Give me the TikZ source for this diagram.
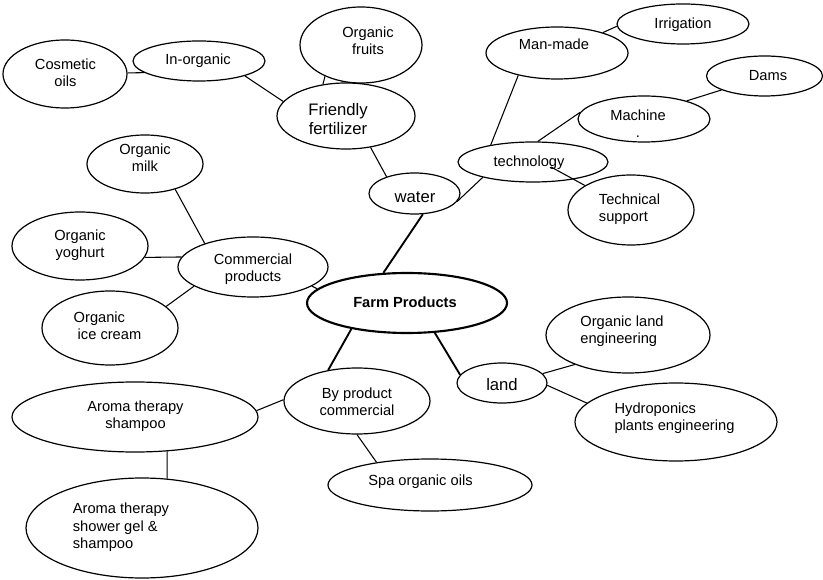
\documentclass[tikz,border=0pt]{standalone}
\usepackage{fontspec}
\setmainfont{Liberation Sans}
\usetikzlibrary{shapes.geometric}

% text sizes used in the bubbles
\newcommand\regsz{\fontsize{11}{13}\selectfont}
\newcommand\bigsz{\fontsize{12.5}{14}\selectfont}

\tikzset{
  bub/.style={draw, ellipse, line width=0.9pt, inner sep=0pt},
  sz/.style 2 args={minimum width=#1*1.5pt, minimum height=#2*1.5pt},
  txt/.style={inner sep=0pt, align=center, font=\regsz},
  ltxt/.style={inner sep=0pt, align=left, font=\regsz},
  link/.style={line width=0.8pt},
  trunk/.style={line width=1.4pt},
}

\begin{document}
\begin{tikzpicture}[x=0.75pt, y=-0.75pt]
\useasboundingbox (0,0) rectangle (823,580);

% ---- bubbles (centre, half-width, half-height in px) ----
\node[bub, sz={62}{34}]  (cos)     at (65,74)   {};
\node[bub, sz={66}{20}]  (inorg)   at (199,61)  {};
\node[bub, sz={61}{38}]  (fruits)  at (361,45)  {};
\node[bub, sz={69}{33}]  (fert)    at (346,116) {};
\node[bub, sz={58}{29}]  (milk)    at (145,164) {};
\node[bub, sz={45.5}{20.5}] (water) at (414.5,193.5) {};
\node[bub, sz={71}{26}]  (manmade) at (557,53)  {};
\node[bub, sz={66}{20}]  (irrig)   at (683,24)  {};
\node[bub, sz={58}{20}]  (dams)    at (764.5,76) {};
\node[bub, sz={66}{23}]  (machine) at (644,119) {};
\node[bub, sz={75}{20}]  (tech)    at (533,162) {};
\node[bub, sz={63}{35}]  (techsup) at (631,210) {};
\node[bub, sz={68}{34}]  (yog)     at (80,246)  {};
\node[bub, sz={75}{30}]  (comm)    at (253,267) {};
\node[bub, sz={68}{37}]  (ice)     at (110,328) {};
\node[bub, sz={100}{30}, line width=1.6pt] (farm) at (407,303) {};
\node[bub, sz={73}{33}]  (byp)     at (357,401) {};
\node[bub, sz={45}{20}]  (land)    at (502,383) {};
\node[bub, sz={82}{38}]  (oland)   at (628,335) {};
\node[bub, sz={101}{39}] (hydro)   at (676,422) {};
\node[bub, sz={102}{26}] (spa)     at (430,485) {};
\node[bub, sz={123}{35}] (shampoo) at (135,417) {};
\node[bub, sz={116}{50}] (gel)     at (142,528) {};

% ---- texts ----
\node[txt] (cosT)     at (65.5,72.5) {Cosmetic\\oils};
\node[txt] (inorgT)   at (198,61)    {In-organic};
\node[txt] (fruitsT)  at (368,41)    {Organic\\fruits};
\node[txt, font=\bigsz] (fertT) at (338,119) {Friendly\\fertilizer};
\node[txt] (milkT)    at (145,158)   {Organic\\milk};
\node[txt, font=\bigsz] (waterT) at (415,197) {water};
\node[txt] (manmadeT) at (554,44)    {Man-made};
\node[txt] (irrigT)   at (683,25)    {Irrigation};
\node[txt] (damsT)    at (768,76)    {Dams};
\node[txt] (machineT) at (638,123.5) {Machine\\.};
\node[txt] (techT)    at (529,163)   {technology};
\node[ltxt] (techsupT) at (629.5,209.5) {Technical\\support};
\node[txt] (yogT)     at (80,245)    {Organic\\yoghurt};
\node[txt] (commT)    at (253,269)   {Commercial\\products};
\node[ltxt] (iceT)    at (107.5,325.5) {Organic\\\hspace*{3pt}ice cream};
\node[txt, font=\regsz\bfseries] (farmT) at (405,302) {Farm Products};
\node[txt] (bypT)     at (357,402)   {By product\\commercial};
\node[txt, font=\bigsz] (landT) at (502,385) {land};
\node[ltxt] (olandT)  at (622,331.5) {Organic land\\engineering};
\node[ltxt] (hydroT)  at (674.5,418) {Hydroponics\\plants engineering};
\node[txt] (spaT)     at (420.5,482) {Spa organic oils};
\node[txt] (shampooT) at (135.5,416.5) {Aroma therapy\\shampoo};
\node[ltxt] (gelT)    at (121,527.5) {Aroma therapy\\shower gel \&\\shampoo};

% ---- connectors ----
\draw[link] (cos.1) -- (inorg.192.8);
\draw[link] (inorg.342) -- (fert.167.5);
\draw[link] (fruits.221) -- (fert.126.6);
\draw[link] (fert.308.5) -- (water.149);
\draw[link] (milk.320) -- (comm.154.8);
\draw[link] (yog.350.4) -- (comm.172.2);
\draw[link] (ice.21.4) -- (comm.198.4);
\draw[link] (comm.342) -- (farm.171);
\draw[trunk] (water.292) -- (farm.128);
\draw[link] (water.349) -- (tech.197.7);
\draw[link] (manmade.210) -- (tech.158);
\draw[link] (manmade.24.8) -- (irrig.182.6);
\draw[link] (machine.174.6) -- (tech.77.5);
\draw[link] (machine.23.4) -- (dams.198.9);
\draw[link] ([shift={(18,5)}]tech.center) -- (techsup.152.4);
\draw[trunk] (farm.205.7) -- (byp.133);
\draw[trunk] (farm.313) -- (land.169);
\draw[link] (land.13.7) -- (oland.209.5);
\draw[link] (land.357.5) -- (hydro.168);
\draw[link] (byp.270) -- (spa.157);
\draw[link] (byp.179) -- (shampoo.3.7);
\draw[link] (shampoo.313) -- (gel.63.9);
\end{tikzpicture}
\end{document}
